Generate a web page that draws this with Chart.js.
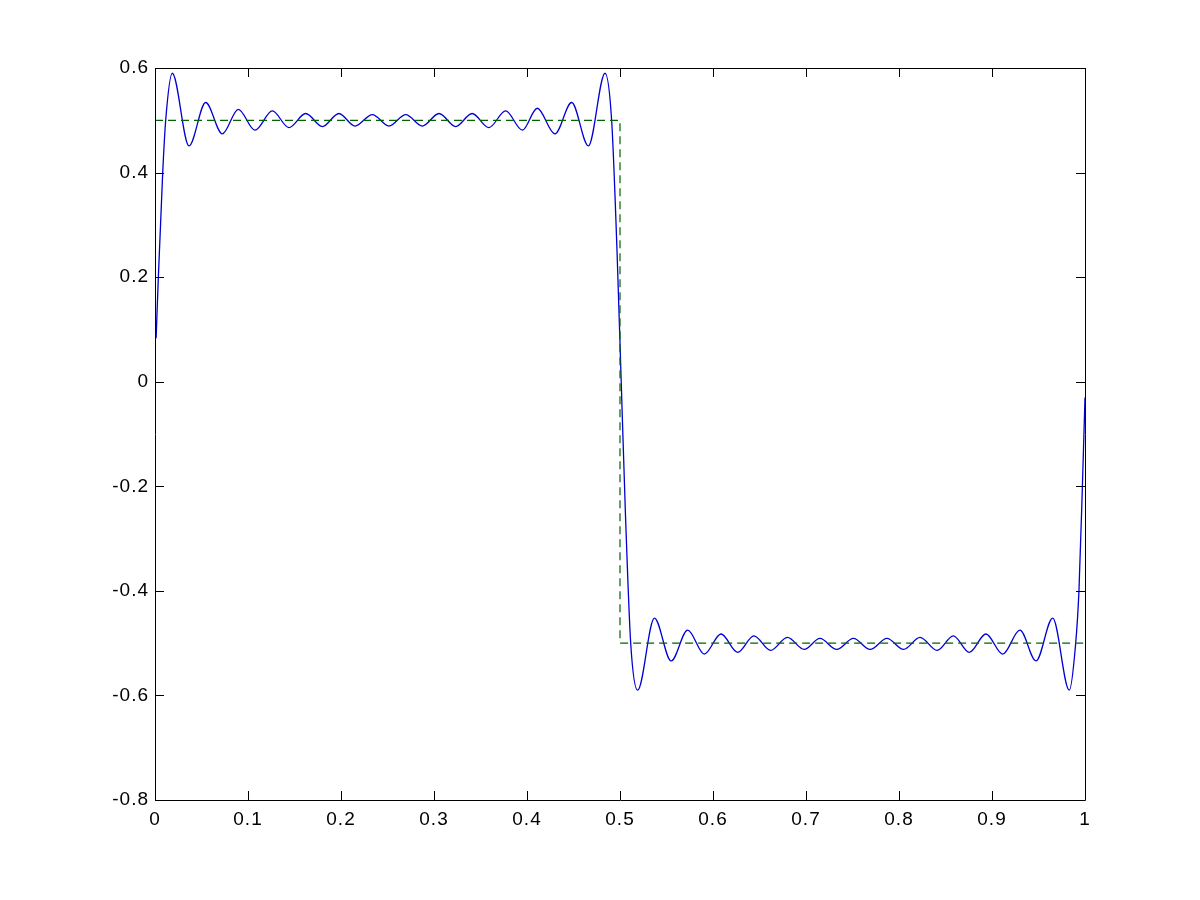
<!DOCTYPE html>
<html>
<head>
<meta charset="utf-8">
<script src="https://cdn.jsdelivr.net/npm/chart.js@4/dist/chart.umd.min.js"></script>
<style>
  html, body { margin: 0; padding: 0; background: #ffffff; }
  #wrap { width: 1200px; height: 900px; }
</style>
</head>
<body>
<div id="wrap"><canvas id="c" width="1200" height="900"></canvas></div>
<script>
// ---- data ----
const fourierX = [
  0.0012, 0.0036, 0.0083, 0.0115, 0.0186, 0.0366, 0.0545, 0.0724, 0.0896, 0.1075,
  0.1262, 0.1440, 0.1620, 0.1800, 0.1978, 0.2150, 0.2337, 0.2516, 0.2696, 0.2874,
  0.3054, 0.3233, 0.3410, 0.3590, 0.3770, 0.3950, 0.4110, 0.4300, 0.4480, 0.4660,
  0.4839, 0.4910, 0.4968, 0.5013, 0.5058, 0.5115, 0.5190, 0.5370, 0.5550, 0.5728,
  0.5906, 0.6086, 0.6265, 0.6440, 0.6620, 0.6800, 0.6980, 0.7150, 0.7330, 0.7510,
  0.7690, 0.7870, 0.8050, 0.8226, 0.8410, 0.8584, 0.8756, 0.8935, 0.9115, 0.9300,
  0.9473, 0.9653, 0.9831, 0.9900, 0.9935, 0.9972, 1.0000
];
const fourierY = [
  0.083, 0.200, 0.400, 0.500, 0.590, 0.451, 0.534, 0.474, 0.521, 0.481,
  0.518, 0.486, 0.513, 0.488, 0.513, 0.489, 0.511, 0.489, 0.511, 0.489,
  0.513, 0.488, 0.513, 0.486, 0.518, 0.481, 0.523, 0.474, 0.534, 0.451,
  0.590, 0.500, 0.250, 0.000, -0.250, -0.500, -0.590, -0.452, -0.534, -0.475,
  -0.521, -0.4825, -0.5175, -0.486, -0.514, -0.489, -0.512, -0.491, -0.512, -0.491,
  -0.512, -0.491, -0.512, -0.489, -0.514, -0.486, -0.5175, -0.4825, -0.521, -0.475,
  -0.534, -0.452, -0.590, -0.500, -0.400, -0.200, -0.030
];
const squareX = [0.0, 0.5, 0.5, 1.0];
const squareY = [0.5, 0.5, -0.5, -0.5];

const xTickValues = [0, 0.1, 0.2, 0.3, 0.4, 0.5, 0.6, 0.7, 0.8, 0.9, 1];
const xTickLabels = ['0', '0.1', '0.2', '0.3', '0.4', '0.5', '0.6', '0.7', '0.8', '0.9', '1'];
const yTickValues = [-0.8, -0.6, -0.4, -0.2, 0, 0.2, 0.4, 0.6];
const yTickLabels = ['-0.8', '-0.6', '-0.4', '-0.2', '0', '0.2', '0.4', '0.6'];

// ---- build chart ----
const toPoints = (xs, ys) => xs.map((x, i) => ({ x: x, y: ys[i] }));
const TICK_FONT = { family: 'Arial, "Liberation Sans", Helvetica, sans-serif', size: 19 };

const boxPlugin = {
  id: 'matlabBox',
  beforeDraw(chart) {
    chart.ctx.letterSpacing = '1px';
  },
  afterDraw(chart) {
    const { ctx, chartArea: a, scales } = chart;
    ctx.save();
    ctx.letterSpacing = '0px';
    ctx.strokeStyle = '#000000';
    ctx.lineWidth = 1;
    ctx.beginPath();
    ctx.rect(Math.round(a.left) + 0.5, Math.round(a.top) + 0.5,
             Math.round(a.right - a.left), Math.round(a.bottom - a.top));
    ctx.stroke();
    const L = 9;
    ctx.beginPath();
    xTickValues.forEach(v => {
      const px = Math.round(scales.x.getPixelForValue(v)) + 0.5;
      ctx.moveTo(px, a.bottom); ctx.lineTo(px, a.bottom - L);
      ctx.moveTo(px, a.top); ctx.lineTo(px, a.top + L);
    });
    yTickValues.forEach(v => {
      const py = Math.round(scales.y.getPixelForValue(v)) + 0.5;
      ctx.moveTo(a.left, py); ctx.lineTo(a.left + L, py);
      ctx.moveTo(a.right, py); ctx.lineTo(a.right - L, py);
    });
    ctx.stroke();
    ctx.restore();
  }
};

new Chart(document.getElementById('c'), {
  type: 'line',
  data: {
    datasets: [
      {
        label: 'square',
        data: toPoints(squareX, squareY),
        borderColor: '#006400',
        borderWidth: 1.2,
        borderDash: [8, 5],
        pointRadius: 0,
        tension: 0,
        fill: false
      },
      {
        label: 'fourier',
        data: toPoints(fourierX, fourierY),
        borderColor: '#0000d0',
        borderWidth: 1.3,
        pointRadius: 0,
        cubicInterpolationMode: 'monotone',
        fill: false
      }
    ]
  },
  options: {
    responsive: false,
    animation: false,
    events: [],
    layout: { padding: { left: 0, top: 68, right: 115, bottom: 0 } },
    plugins: { legend: { display: false }, tooltip: { enabled: false } },
    scales: {
      x: {
        type: 'linear',
        min: 0, max: 1,
        grid: { display: false, drawTicks: false },
        border: { display: false },
        afterBuildTicks: s => { s.ticks = xTickValues.map(v => ({ value: v })); },
        afterFit: s => { s.height = 100; },
        ticks: {
          color: '#000000', font: TICK_FONT, padding: 8, maxRotation: 0, autoSkip: false,
          callback: v => xTickLabels[xTickValues.findIndex(t => Math.abs(t - v) < 1e-9)]
        }
      },
      y: {
        type: 'linear',
        min: -0.8, max: 0.6,
        grid: { display: false, drawTicks: false },
        border: { display: false },
        afterBuildTicks: s => { s.ticks = yTickValues.map(v => ({ value: v })); },
        afterFit: s => { s.width = 155; },
        ticks: {
          color: '#000000', font: TICK_FONT, padding: 6, autoSkip: false,
          callback: v => yTickLabels[yTickValues.findIndex(t => Math.abs(t - v) < 1e-9)]
        }
      }
    }
  },
  plugins: [boxPlugin]
});
</script>
</body>
</html>
